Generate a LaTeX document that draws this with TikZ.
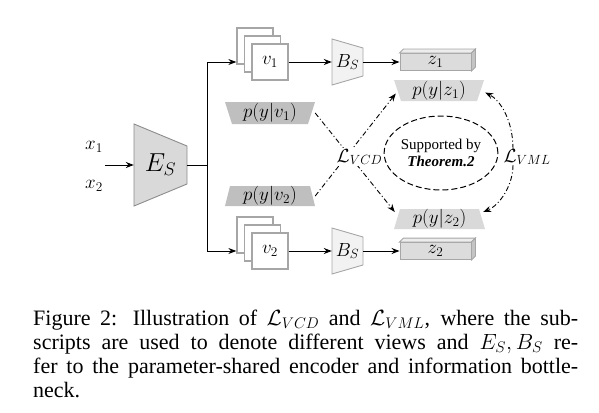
\RequirePackage{fix-cm}
\documentclass[tikz,border=0pt]{standalone}
\usepackage{fontspec}
\newfontfamily\capfont{Liberation Serif}
\usetikzlibrary{arrows.meta,calc,shapes.geometric}
\definecolor{esfill}{HTML}{D9D9D9}
\definecolor{esdraw}{HTML}{8C8C8C}
\definecolor{bsfill}{HTML}{F2F2F2}
\definecolor{sqgray}{HTML}{A6A6A6}
\definecolor{pvfill}{HTML}{BFBFBF}
\definecolor{pzfill}{HTML}{D9D9D9}
\definecolor{zfill}{HTML}{DCDCDC}
\definecolor{ztop}{HTML}{EDEDED}
\definecolor{zside}{HTML}{C4C4C4}
\begin{document}
\begin{tikzpicture}[x=1pt,y=-1pt,
  tip/.style={-{Stealth[length=8pt,width=6pt]}},
  arr/.style={tip, line width=1pt},
  dd/.style={tip, line width=0.9pt, dash pattern=on 5pt off 2.5pt on 1pt off 2.5pt},
  lbl/.style={inner sep=0pt, font=\fontsize{19}{22}\selectfont},
  sq/.style={draw=sqgray, fill=white, line width=1.3pt, minimum size=36pt, inner sep=0pt, font=\fontsize{19}{22}\selectfont},
  holder/.style={inner sep=0pt, font=\fontsize{19}{22}\selectfont},
  shp/.style={draw=esdraw, line width=0.9pt},
  zbox/.style={draw=sqgray, fill=zfill, line width=0.9pt, minimum width=71pt, minimum height=17pt, inner sep=0pt, font=\fontsize{19}{22}\selectfont}
]
\useasboundingbox (0,0) rectangle (599,412);

% input labels
\node[lbl] (x1) at (94,147) {$x_1$};
\node[lbl] (x2) at (94,186) {$x_2$};
\coordinate (xin) at (105,165);

% encoder E_S
\path[shp, fill=esfill] (134,124) -- (187,146) -- (187,184) -- (134,206) -- cycle;
\node[holder, minimum width=53pt, minimum height=82pt, font=\fontsize{26}{30}\selectfont] (ES) at (160.5,165) {$E_S$};
\draw[arr] (xin) -- (ES.west);

% stacks of views
\node[sq] (s1a) at (255,46) {};
\node[sq] (s1b) at (262.5,54) {};
\node[sq] (s1c) at (270,62) {$v_1$};
\node[sq] (s2a) at (255,235) {};
\node[sq] (s2b) at (262.5,243) {};
\node[sq] (s2c) at (270,251) {$v_2$};

\coordinate (j) at (207,165);
\draw[line width=1pt] (ES.east) -- (j);
\draw[arr] (j) |- (s1a.west |- s1c);
\draw[arr] (j) |- (s2a.west |- s2c);

% bottlenecks B_S
\path[shp, draw=sqgray, fill=bsfill] (332,39) -- (363,48) -- (363,76) -- (332,85) -- cycle;
\node[holder, minimum width=31pt, minimum height=46pt] (BS1) at (347.5,62) {$B_S$};
\path[shp, draw=sqgray, fill=bsfill] (332,228) -- (363,237) -- (363,265) -- (332,274) -- cycle;
\node[holder, minimum width=31pt, minimum height=46pt] (BS2) at (347.5,251) {$B_S$};

% z boxes
\node[zbox] (z1) at (435.5,62) {$z_1$};
\filldraw[fill=ztop, draw=sqgray, line width=0.9pt] (z1.north west) -- ++(4,-4) -- ($(z1.north east)+(4,-4)$) -- (z1.north east) -- cycle;
\filldraw[fill=zside, draw=sqgray, line width=0.9pt] (z1.north east) -- ++(4,-4) -- ($(z1.south east)+(4,-4)$) -- (z1.south east) -- cycle;
\node[zbox] (z2) at (435.5,251) {$z_2$};
\filldraw[fill=ztop, draw=sqgray, line width=0.9pt] (z2.north west) -- ++(4,-4) -- ($(z2.north east)+(4,-4)$) -- (z2.north east) -- cycle;
\filldraw[fill=zside, draw=sqgray, line width=0.9pt] (z2.north east) -- ++(4,-4) -- ($(z2.south east)+(4,-4)$) -- (z2.south east) -- cycle;

\draw[arr] (s1c.east) -- (BS1.west);
\draw[arr] (BS1.east) -- (z1.west);
\draw[arr] (s2c.east) -- (BS2.west);
\draw[arr] (BS2.east) -- (z2.west);

% classifiers
\fill[pzfill] (394,80) -- (484,80) -- (477,101) -- (401,101) -- cycle;
\node[holder, minimum width=90pt, minimum height=21pt] (pz1) at (439,90.5) {$p(y|z_1)$};
\fill[pzfill] (400,209) -- (479,209) -- (485,229) -- (394,229) -- cycle;
\node[holder, minimum width=91pt, minimum height=20pt] (pz2) at (439.5,219) {$p(y|z_2)$};
\fill[pvfill] (225,102) -- (315,102) -- (308,124) -- (232,124) -- cycle;
\node[holder, minimum width=90pt, minimum height=22pt] (pv1) at (270,113) {$p(y|v_1)$};
\fill[pvfill] (230,186) -- (310,186) -- (315,206) -- (225,206) -- cycle;
\node[holder, minimum width=90pt, minimum height=20pt] (pv2) at (270,196) {$p(y|v_2)$};

% L_VCD
\draw[dd] (pv1.east) -- ($(pz2.west)+(1,-7)$);
\draw[dd] (pv2.east) -- ($(pz1.west)+(2,3)$);
\node[lbl, fill=white, inner sep=1pt] (LVCD) at (359.5,157) {$\mathcal{L}_{VCD}$};

% L_VML
\node[lbl] (LVML) at (527,157) {$\mathcal{L}_{VML}$};
\coordinate (vmT) at (513,149);
\coordinate (vmB) at (513,165);
\draw[dd] (vmT) .. controls (513,120) and (500,100) .. ($(pz1.east)+(1,2)$);
\draw[dd] (vmB) .. controls (513,185) and (500,205) .. ($(pz2.east)+(-2,-7)$);

% theorem ellipse
\node[draw, ellipse, line width=1pt, dash pattern=on 6pt off 3pt, minimum width=102pt, minimum height=74pt, inner sep=0pt, align=center, font=\capfont\fontsize{15}{17}\selectfont] (thm) at (441,153) {Supported by\\\textbf{\textit{Theorem.2}}};

% caption
\node[anchor=north west, text width=545pt, align=justify, inner sep=0pt, font=\capfont\fontsize{22}{24}\selectfont] (cap) at (33,310)
{Figure 2: Illustration of $\mathcal{L}_{VCD}$ and $\mathcal{L}_{VML}$, where the sub-\linebreak scripts are used to denote different views and $E_S, B_S$ re-\linebreak fer to the parameter-shared encoder and information bottle-\linebreak neck.};
\end{tikzpicture}
\end{document}
